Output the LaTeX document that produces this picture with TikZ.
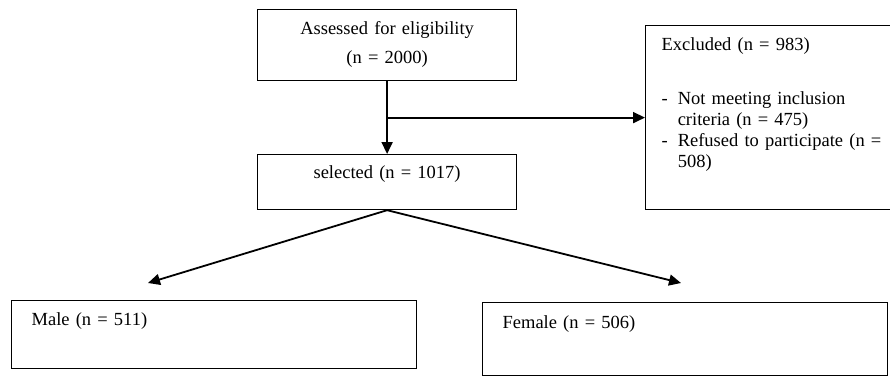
\documentclass[tikz,border=0pt]{standalone}
\usepackage{fontspec}
\setmainfont{Liberation Serif}
\usetikzlibrary{arrows.meta}

\begin{document}
\begin{tikzpicture}[x=1pt,y=-1pt,
  box/.style={draw,line width=1.2pt,anchor=north west,inner ysep=0pt,align=left,font=\fontsize{18.5}{21}\selectfont},
  arr/.style={line width=1.8pt,-{Triangle[length=12pt,width=11pt]}}]
\useasboundingbox (0,0) rectangle (890,376);

\node[box,align=center,inner xsep=10pt,text width=239pt,text height=24.5pt,text depth=46.5pt,font=\fontsize{18.5}{29}\selectfont] (assess) at (257,9) {Assessed for eligibility\\(n = 2000)};
\node[box,align=center,inner xsep=10pt,text width=239pt,text height=23.5pt,text depth=31.5pt] (sel) at (257,154) {selected (n = 1017)};

\node[box,inner xsep=16pt,text width=218pt,text height=24.5pt,text depth=159.5pt] (excl) at (645,25)
  {\begin{tabular}[t]{@{}l@{\hspace{10pt}}l@{}}
   \multicolumn{2}{@{}l@{}}{Excluded (n = 983)}\\[33pt]
   - & Not meeting inclusion\\
     & criteria (n = 475)\\
   - & Refused to participate (n =\\
     & 508)
   \end{tabular}};

\node[box,inner xsep=20pt,text width=365pt,text height=24.5pt,text depth=43.5pt] (male) at (11,300) {Male (n = 511)};
\node[box,inner xsep=20pt,text width=365pt,text height=25.5pt,text depth=47.5pt] (fem) at (482,302) {Female (n = 506)};

\draw[arr] (assess) -- (sel);
\draw[arr] (assess.south |- excl.west) -- (excl.west);

\coordinate (maletip) at (148,283);
\coordinate (femtip) at (681,283);
\draw[arr] (sel.south) -- (maletip);
\draw[arr] (sel.south) -- (femtip);
\end{tikzpicture}
\end{document}
